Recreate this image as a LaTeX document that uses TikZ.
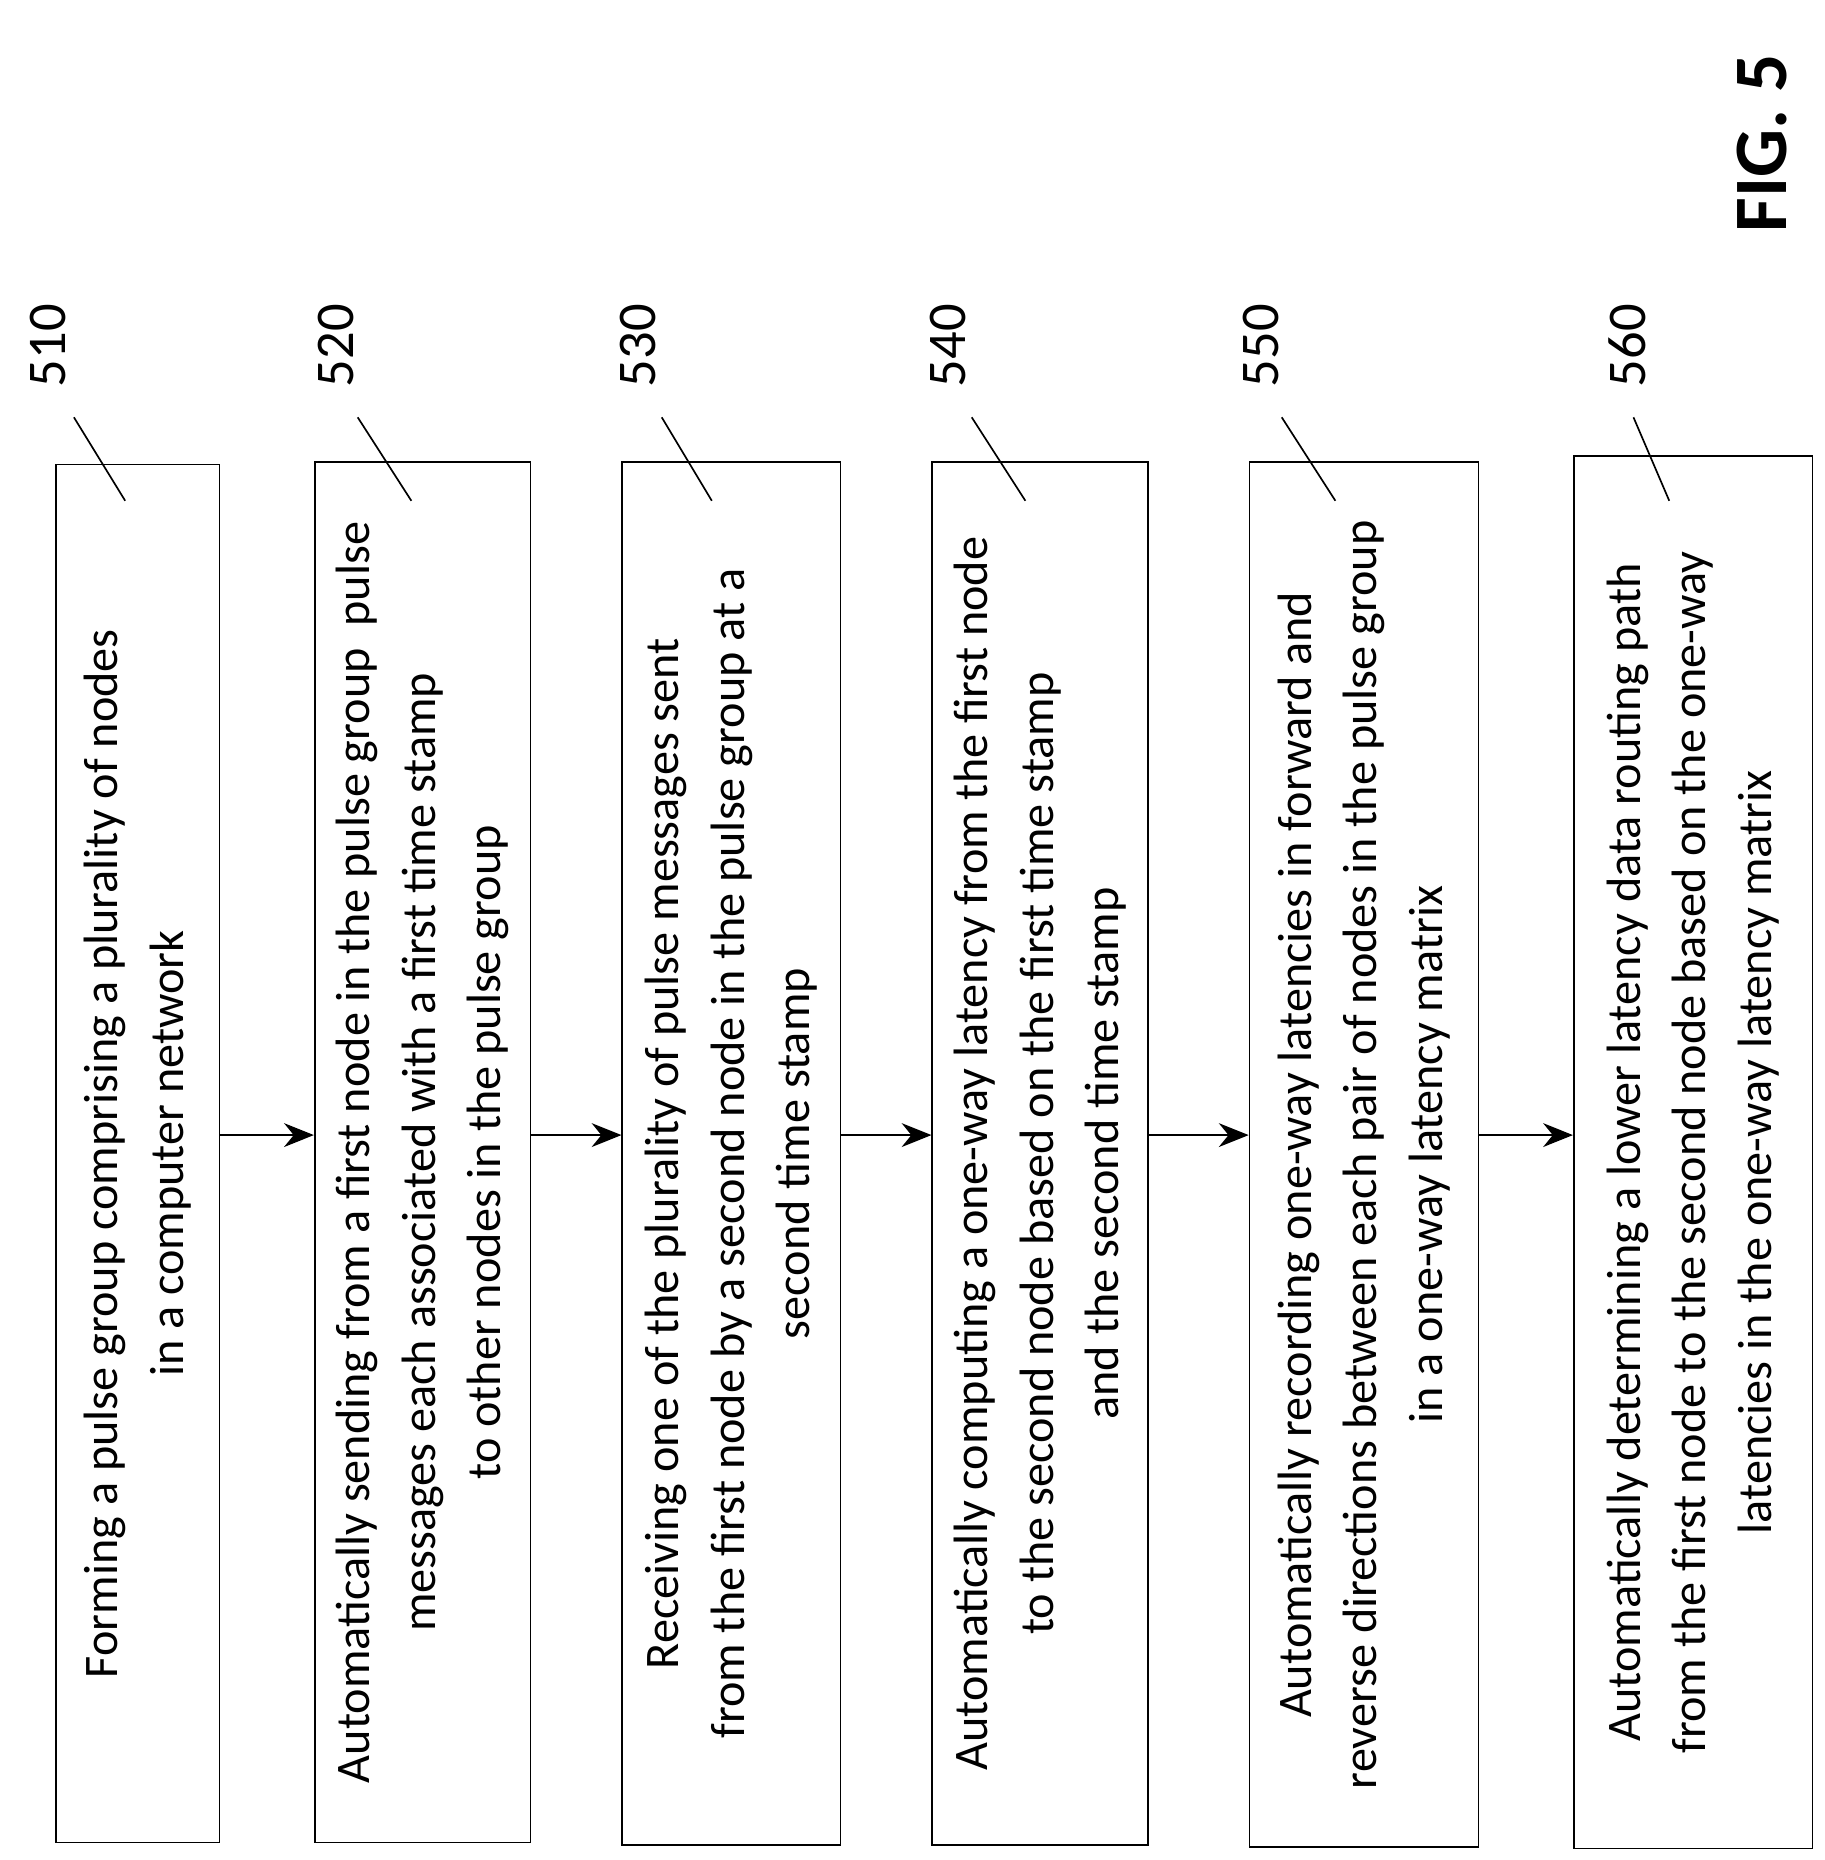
\documentclass[tikz,border=0pt]{standalone}
\usepackage{fontspec}
\setmainfont{Carlito}
\usetikzlibrary{calc,positioning,arrows.meta}
\begin{document}
\begin{tikzpicture}[x=0.01cm,y=-0.01cm,font=\fontsize{11.5}{15.6}\selectfont]

\tikzset{stepbox/.style={draw,rotate=90,align=center,inner sep=2pt},
flowarrow/.style={-{Stealth[length=2.5mm,width=2mm]}},
refnum/.style={rotate=90,font=\fontsize{13}{16}\selectfont}}

\useasboundingbox (0,0) rectangle (1530,1560);

% Step boxes
\node[stepbox,minimum width=11.55cm,minimum height=1.37cm] (b510) at (115.5,967.5) {Forming a pulse group comprising a plurality of nodes\\in a computer network};
\node[stepbox,minimum width=11.57cm,minimum height=1.81cm] (b520) at (354.5,966.5) {Automatically sending from a first node in the pulse group\ \ pulse\\messages each associated with a first time stamp\\to other nodes in the pulse group};
\node[stepbox,minimum width=11.59cm,minimum height=1.83cm] (b530) at (613.5,967.5) {Receiving one of the plurality of pulse messages sent\\from the first node by a second node in the pulse group at a\\second time stamp};
\node[stepbox,minimum width=11.59cm,minimum height=1.81cm] (b540) at (872.5,967.5) {Automatically computing a one-way latency from the first node\\to the second node based on the first time stamp\\and the second time stamp};
\node[stepbox,minimum width=11.61cm,minimum height=1.92cm] (b550) at (1144,968.5) {Automatically recording one-way latencies in forward and\\reverse directions between each pair of nodes in the pulse group\\in a one-way latency matrix};
\node[stepbox,minimum width=11.67cm,minimum height=2.00cm] (b560) at (1420,966.5) {Automatically determining a lower latency data routing path\\from the first node to the second node based on the one-way\\latencies in the one-way latency matrix};

% Arrows
\foreach \a/\b in {b510/b520,b520/b530,b530/b540,b540/b550,b550/b560}
  \draw[flowarrow] (\a.south |- 0,952) -- (\b.north |- 0,952);

% Reference numerals
\foreach \n/\x/\sx/\ex in {510/40/62/105,520/282/300/345,530/535/555/597,540/795/815/860,550/1058/1075/1120,560/1365/1370/1400} {
  \node[refnum] (n\n) at (\x,290) {\n};
  \draw (\sx,350) -- (\ex,420);
}

% Figure title
\node[rotate=90,font=\fontsize{18}{22}\selectfont\bfseries] (fig) at (1478,120) {FIG. 5};

\end{tikzpicture}
\end{document}
